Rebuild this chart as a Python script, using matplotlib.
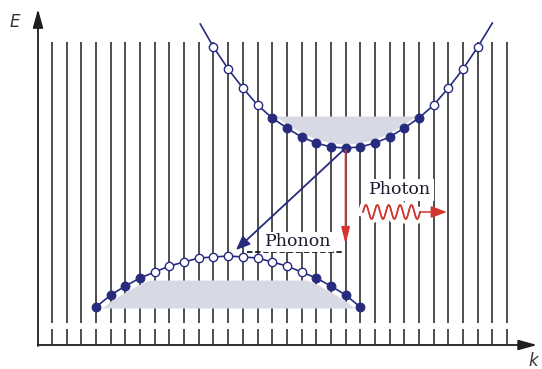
import numpy as np
import matplotlib
matplotlib.use("Agg")
import matplotlib.pyplot as plt
import matplotlib.patheffects as pe

# lattice sites (k index of each vertical line)
lattice_k = np.arange(32)

# conduction band states: k index, energy, occupied?
cb_k = np.arange(11, 30)
cb_E = [298, 276, 257, 240, 227, 217, 208, 202, 198, 197,
        198, 202, 208, 217, 227, 240, 257, 276, 298]
cb_filled = [0, 0, 0, 0, 1, 1, 1, 1, 1, 1, 1, 1, 1, 1, 1, 0, 0, 0, 0]
cb_ends = [(10.1, 321), (30.0, 322)]

# valence band states
vb_k = np.arange(3, 22)
vb_E = [38, 50, 59, 67, 73, 79, 83, 87, 88, 89,
        88, 87, 83, 79, 73, 67, 59, 50, 38]
vb_filled = [1, 1, 1, 1, 0, 0, 0, 0, 0, 0, 0, 0, 0, 0, 0, 1, 1, 1, 1]

navy = '#262b7e'
shade = '#d7dae5'
ink = '#1e1e1e'
red = '#d2352f'

fig = plt.figure(figsize=(5.42, 3.69), dpi=100)
ax = fig.add_axes([0, 0, 1, 1])
ax.set_xlim(-3.542, 33.38)
ax.set_ylim(-24, 345)
ax.axis('off')

# lattice lines + short ticks at the bottom
ax.vlines(lattice_k, 22, 303, color=ink, lw=1.1, zorder=1)
ax.vlines(lattice_k, 1, 16, color=ink, lw=1.1, zorder=1)

# axes with arrows
ax.annotate('', xy=(-0.954, 336), xytext=(-0.954, -1),
            arrowprops=dict(arrowstyle='-|>,head_length=0.8,head_width=0.22',
                            lw=1.3, color=ink, mutation_scale=14,
                            shrinkA=0, shrinkB=0), zorder=5)
ax.annotate('', xy=(33.05, 0), xytext=(-0.954, 0),
            arrowprops=dict(arrowstyle='-|>,head_length=0.8,head_width=0.22',
                            lw=1.3, color=ink, mutation_scale=14,
                            shrinkA=0, shrinkB=0), zorder=5)
ax.text(-2.55, 323, 'E', fontsize=12, style='italic', ha='center', va='center', color='#333')
ax.text(32.75, -16, 'k', fontsize=12, style='italic', ha='center', va='center', color='#333')

# shaded (occupied) regions
kk = np.linspace(2, 31, 800)
cb_line = np.interp(kk, cb_k, cb_E, left=np.nan, right=np.nan)
cb_low = cb_line + 4
ax.fill_between(kk, cb_low, 229, where=cb_low < 229, color=shade, lw=0, zorder=2)
vb_line = np.interp(kk, vb_k, vb_E, left=np.nan, right=np.nan)
vb_top = np.minimum(vb_line - 6, 65)
ax.fill_between(kk, 37, vb_top, where=vb_top > 37, color=shade, lw=0, zorder=2)

# band curves
ck = [cb_ends[0][0]] + list(cb_k) + [cb_ends[1][0]]
cE = [cb_ends[0][1]] + list(cb_E) + [cb_ends[1][1]]
ax.plot(ck, cE, color=navy, lw=1.2, zorder=3)
ax.plot(vb_k, vb_E, color=navy, lw=1.2, zorder=3)

for ks, Es, fl in [(cb_k, cb_E, cb_filled), (vb_k, vb_E, vb_filled)]:
    ks = np.asarray(ks); Es = np.asarray(Es); fl = np.asarray(fl, bool)
    ax.plot(ks[fl], Es[fl], 'o', ms=6.3, mfc=navy, mec=navy, mew=0.8, ls='none', zorder=4)
    ax.plot(ks[~fl], Es[~fl], 'o', ms=6, mfc='white', mec=navy, mew=1.0, ls='none', zorder=4)

# indirect transition (blue) and photon emission (red)
ax.annotate('', xy=(12.53, 95), xytext=(20, 197),
            arrowprops=dict(arrowstyle='-|>,head_length=0.6,head_width=0.25',
                            lw=1.3, color=navy, mutation_scale=14,
                            shrinkA=0, shrinkB=0), zorder=6)
ax.annotate('', xy=(20, 101), xytext=(20, 195),
            arrowprops=dict(arrowstyle='-|>,head_length=0.7,head_width=0.18',
                            lw=1.3, color=red, mutation_scale=14,
                            shrinkA=0, shrinkB=0), zorder=6)

# phonon
ax.plot([13.28, 19.82], [93, 93], color=ink, lw=1.3, ls=(0, (3, 1.5)), zorder=5)
ax.text(16.75, 103, 'Phonon', family='DejaVu Serif', fontsize=12.5, color='#1b1b30',
        ha='center', va='center', zorder=5,
        bbox=dict(boxstyle='square,pad=0.1', fc='white', ec='none'))

# photon
ax.text(23.7, 155, 'Photon', family='DejaVu Serif', fontsize=12.5, color='#1b1b30',
        ha='center', va='center', zorder=5,
        bbox=dict(boxstyle='square,pad=0.15', fc='white', ec='none'))
kw = np.linspace(21.19, 25.07, 400)
Ew = 133 + 7 * np.sin(2 * np.pi * 5 * (kw - 21.19) / (25.07 - 21.19))
ax.plot(kw, Ew, color=red, lw=1.1, zorder=5,
        path_effects=[pe.withStroke(linewidth=7, foreground='white'), pe.Normal()])
ax.annotate('', xy=(26.9, 133), xytext=(25.07, 133),
            arrowprops=dict(arrowstyle='-|>,head_length=0.8,head_width=0.3',
                            lw=1.1, color=red, mutation_scale=12,
                            shrinkA=0, shrinkB=0), zorder=5)

fig.savefig('out.png', dpi=100)
